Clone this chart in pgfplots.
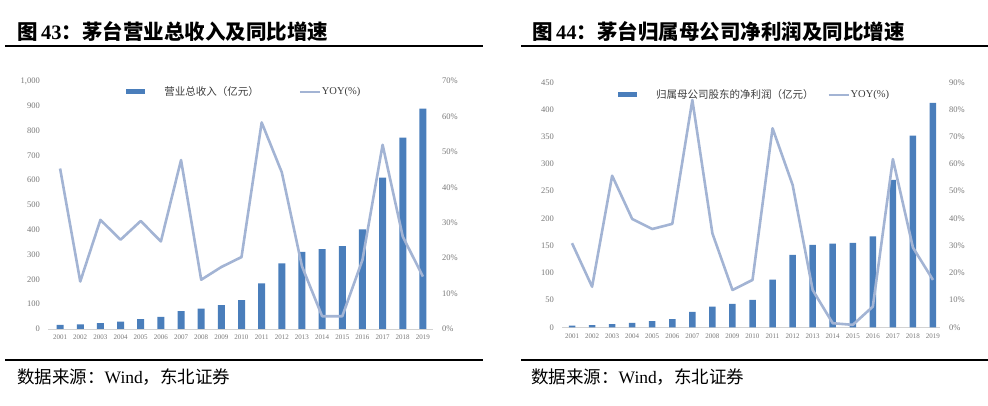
\documentclass[border=0pt]{standalone}
\usepackage{pgfplots}
\usepackage{pgfplotstable}
\pgfplotsset{compat=1.18}
\usepackage{fontspec}
\setmainfont{Liberation Serif}
\newfontfamily\cjk{Noto Sans CJK SC}
\definecolor{barc}{RGB}{74,126,187}
\definecolor{linec}{RGB}{163,180,212}
\definecolor{tickc}{RGB}{120,120,120}
\definecolor{legc}{RGB}{60,60,60}

\pgfplotstableread{
year rev ryoy np npyoy
2001 16.18 45.3 3.28 30.9
2002 18.34 13.4 3.77 14.9
2003 24.01 30.8 5.87 55.7
2004 30.10 25.2 8.20 39.8
2005 39.31 30.5 11.19 36.1
2006 49.03 24.7 15.04 38.0
2007 72.37 47.7 28.31 83.5
2008 82.42 13.9 37.99 34.5
2009 96.70 17.5 43.12 13.7
2010 116.33 20.3 50.51 17.4
2011 184.02 58.3 87.63 73.1
2012 264.55 44.2 133.08 52.3
2013 310.71 17.7 151.37 13.7
2014 322.17 3.6 153.50 1.5
2015 334.47 3.6 155.03 0.9
2016 401.55 19.5 167.18 7.6
2017 610.63 52.0 270.79 61.8
2018 771.99 26.1 352.04 29.3
2019 888.54 14.8 412.06 17.4
}\data

\pgfplotsset{
  common/.style={
    scale only axis,
    xtick={2001,...,2019},
    major tick length=0pt,
    ymin=0,
    /pgf/number format/assume math mode=true,
    tick label style={text=tickc, inner sep=0pt},
    xticklabel style={font=\fontsize{7}{8}\selectfont, anchor=north, yshift=-6pt, /pgf/number format/1000 sep={}},
  },
  barax/.style={common,
    axis x line*=bottom, axis y line*=left,
    x axis line style={-, draw=gray!35, line width=0.9pt},
    y axis line style={draw=none},
    yticklabel style={font=\fontsize{8.5}{9}\selectfont, anchor=east, xshift=-8pt, /pgf/number format/1000 sep={,}},
  },
  lineax/.style={common,
    axis x line=none, axis y line*=right,
    y axis line style={draw=none},
    yticklabel style={font=\fontsize{8.5}{9}\selectfont, anchor=west, xshift=9pt},
    yticklabel={\pgfmathprintnumber{\tick}\%},
    legend columns=2,
    legend cell align=left,
    legend style={draw=none, fill=none, inner sep=0pt,
      font=\fontsize{10.5}{11}\selectfont\color{legc},
      nodes={inner sep=0pt},
      /tikz/every odd column/.append style={column sep=1pt}},
  },
  barleg/.style={legend image code/.code={\fill[barc, draw=none] (0pt,-2.5pt) rectangle (19pt,2.5pt); \path[draw=none] (0pt,0pt) -- (37pt,0pt);}},
  lineleg/.style={legend image code/.code={\draw[linec, line width=2pt] (0pt,0pt) -- (20pt,0pt);}},
}

\begin{document}
\begin{tikzpicture}[x=1pt,y=1pt]
\path[use as bounding box] (0,0) rectangle (988,406);

% ---------- titles, rules, sources ----------
\node[anchor=west, inner sep=0pt] at (17,374) {\fontsize{20.5}{21}\selectfont{\cjk\bfseries 图}\,\textbf{43}{\cjk\bfseries ：茅台营业总收入及同比增速}};
\node[anchor=west, inner sep=0pt] at (532,374) {\fontsize{20.5}{21}\selectfont{\cjk\bfseries 图}\,\textbf{44}{\cjk\bfseries ：茅台归属母公司净利润及同比增速}};
\draw[line width=1.3pt] (5,360) -- (483,360);
\draw[line width=1.3pt] (521,360) -- (988,360);
\draw[line width=1.3pt] (5,46) -- (483,46);
\draw[line width=1.3pt] (521,46) -- (988,46);
\node[anchor=west, inner sep=0pt] at (17,29) {\fontsize{17.5}{18}\selectfont{\cjk 数据来源：}Wind{\cjk ，东北证券}};
\node[anchor=west, inner sep=0pt] at (531,29) {\fontsize{17.5}{18}\selectfont{\cjk 数据来源：}Wind{\cjk ，东北证券}};

% ---------- left panel ----------
\begin{axis}[barax, at={(48pt,77pt)}, anchor=south west,
  width=385pt, height=248pt, xmin=2000.4, xmax=2019.5,
  ymax=1000, ytick={0,100,...,1000}]
  \addplot[ybar, bar width=7pt, fill=barc, draw=none] table[x=year, y=rev] {\data};
\end{axis}
\begin{axis}[lineax, at={(48pt,77pt)}, anchor=south west,
  width=385pt, height=248pt, xmin=2000.4, xmax=2019.5,
  ymax=70, ytick={0,10,...,70},
  legend style={at={(0.203,0.956)}, anchor=west,
    /tikz/every even column/.append style={column sep=40pt}}]
  \addlegendimage{barleg}
  \addlegendentry{{\cjk 营业总收入（亿元）}}
  \addplot[linec, line width=2.6pt, line join=round, lineleg] table[x=year, y=ryoy] {\data};
  \addlegendentry{YOY(\%)}
\end{axis}

% ---------- right panel ----------
\begin{axis}[barax, at={(562pt,78.7pt)}, anchor=south west,
  width=378pt, height=245pt, xmin=2000.5, xmax=2019.35,
  ymax=450, ytick={0,50,...,450}]
  \addplot[ybar, bar width=6.5pt, fill=barc, draw=none] table[x=year, y=np] {\data};
\end{axis}
\begin{axis}[lineax, at={(562pt,78.7pt)}, anchor=south west,
  width=378pt, height=245pt, xmin=2000.5, xmax=2019.35,
  ymax=90, ytick={0,10,...,90},
  legend style={at={(0.148,0.95)}, anchor=west,
    /tikz/every even column/.append style={column sep=14pt}}]
  \addlegendimage{barleg}
  \addlegendentry{{\cjk 归属母公司股东的净利润（亿元）}}
  \addplot[linec, line width=2.6pt, line join=round, lineleg] table[x=year, y=npyoy] {\data};
  \addlegendentry{YOY(\%)}
\end{axis}
\end{tikzpicture}
\end{document}
